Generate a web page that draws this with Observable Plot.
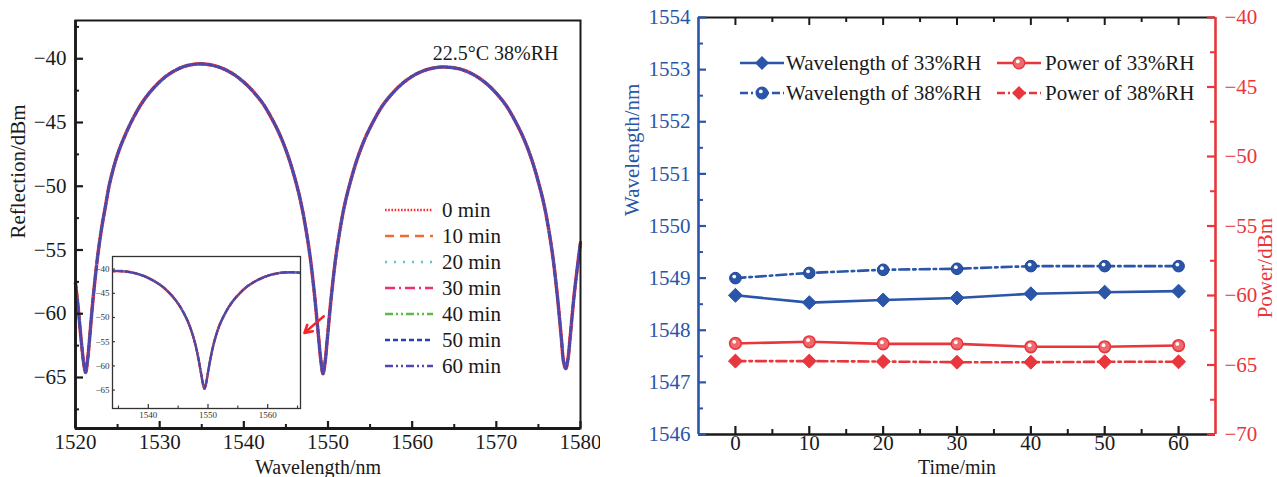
<!DOCTYPE html>
<html>
<head>
<meta charset="utf-8">
<script src="https://cdn.jsdelivr.net/npm/d3@7"></script>
<script src="https://cdn.jsdelivr.net/npm/@observablehq/plot@0.6"></script>
<style>
  body { margin: 0; background: #fff; }
  #fig { position: relative; width: 1277px; height: 477px; overflow: hidden;
         font-family: "Liberation Serif", "Times New Roman", serif; color: #1a1a1a; }
  #fig svg.layer { position: absolute; }
  .leg { position: absolute; display: flex; align-items: center; font-size: 21px; white-space: nowrap; line-height: 1; }
  .leg svg { display: block; }
</style>
</head>
<body>
<div id="fig"></div>
<script>
// ---------- Reflection spectrum (all seven time traces overlap) ----------
const spectrumWavelength = [1520.0,1520.3,1520.55,1520.8,1521.0,1521.2,1521.44,1521.68,1521.91,1522.15,1522.63,1523.1,1523.58,1524.05,1525.0,1525.96,1526.9,1527.86,1528.8,1529.76,1530.7,1531.67,1532.6,1533.57,1534.8,1536.13,1537.15,1538.17,1539.19,1540.21,1541.23,1542.25,1543.27,1544.3,1545.32,1546.34,1546.85,1547.36,1547.87,1548.38,1548.63,1548.89,1549.14,1549.4,1549.65,1549.9,1550.15,1550.4,1550.9,1551.4,1551.9,1552.4,1553.4,1554.4,1555.4,1556.4,1557.4,1558.4,1559.4,1560.4,1561.4,1562.4,1563.6,1565.25,1566.25,1567.25,1568.25,1569.25,1570.25,1571.25,1572.25,1573.25,1574.25,1575.25,1575.75,1576.25,1576.75,1577.25,1577.5,1577.75,1578.0,1578.25,1578.5,1578.75,1579.0,1579.25,1579.75,1580.0];
const spectrumReflection = [-57.6,-59.4,-61.2,-62.9,-64.0,-64.6,-63.6,-61.9,-60.1,-58.4,-55.5,-53.3,-51.5,-49.8,-47.5,-45.9,-44.6,-43.5,-42.66,-41.96,-41.4,-40.98,-40.68,-40.49,-40.4,-40.49,-40.68,-40.98,-41.4,-41.96,-42.66,-43.5,-44.63,-46.0,-47.75,-50.05,-51.5,-53.3,-55.5,-58.4,-60.1,-61.9,-63.6,-64.7,-63.8,-62.1,-60.3,-58.6,-55.7,-53.5,-51.7,-50.3,-48.0,-46.25,-44.9,-43.75,-42.9,-42.2,-41.65,-41.23,-40.93,-40.74,-40.65,-40.74,-40.93,-41.23,-41.65,-42.2,-42.9,-43.75,-44.9,-46.25,-48.0,-50.3,-51.7,-53.5,-55.7,-58.6,-60.3,-62.1,-63.8,-64.3,-63.6,-62.0,-60.2,-58.5,-55.7,-54.4];
const traceLabels = ["0 min", "10 min", "20 min", "30 min", "40 min", "50 min", "60 min"];
const spectrumNote = "22.5°C 38%RH";
const spectrumTicksX = [1520, 1530, 1540, 1550, 1560, 1570, 1580];
const spectrumTicksY = [-65, -60, -55, -50, -45, -40];
const insetTicksX = [1540, 1550, 1560];
// arrow from the second dip toward the inset (wavelength, dBm)
const arrowFrom = [1549.5, -60.2];
const arrowTo = [1547.2, -61.5];

// ---------- Stability over time ----------
const times = [0, 10, 20, 30, 40, 50, 60];
const wavelength33 = [1548.67, 1548.53, 1548.58, 1548.62, 1548.70, 1548.73, 1548.75];
const wavelength38 = [1549.00, 1549.10, 1549.16, 1549.18, 1549.23, 1549.23, 1549.23];
const power33 = [-63.45, -63.33, -63.48, -63.48, -63.69, -63.69, -63.60];
const power38 = [-64.72, -64.72, -64.75, -64.80, -64.80, -64.77, -64.77];
const seriesLabels = ["Wavelength of 33%RH", "Wavelength of 38%RH", "Power of 33%RH", "Power of 38%RH"];
const wavelengthTicks = [1546, 1547, 1548, 1549, 1550, 1551, 1552, 1553, 1554];
const powerTicks = [-70, -65, -60, -55, -50, -45, -40];

// ---------- styles ----------
const serif = '"Liberation Serif", "Times New Roman", serif';
const ink = "#1a1a1a";
const blue = "#2a55a8";
const red = "#e8363c";
const traceStyle = [
  {color: "#ff2a2a", dash: "1.6,1.6", width: 3.6},
  {color: "#f06a36", dash: "9,6", width: 2.4},
  {color: "#58c6d6", dash: "2,7", width: 2.4},
  {color: "#ee2f6c", dash: "10,4,2,4", width: 2.4},
  {color: "#5dbb46", dash: "8,3,2,3,2,3", width: 2.4},
  {color: "#2a40b2", dash: "5,3", width: 2.6},
  {color: "#5048b0", dash: "8,3,2,3,2,3", width: 2.6}
];
const fmt = d3.format("d");
const fig = document.getElementById("fig");
function place(svg, left, top) {
  svg.classList.add("layer");
  svg.style.left = left + "px";
  svg.style.top = top + "px";
  fig.appendChild(svg);
}

const spectrum = spectrumWavelength.map((w, i) => ({w, r: spectrumReflection[i]}));
const traceMarks = (scale, clip) => traceLabels.map((t, i) => Plot.line(spectrum, {
  x: "w", y: "r", curve: "catmull-rom", clip,
  stroke: traceStyle[i].color, strokeWidth: traceStyle[i].width * scale,
  strokeDasharray: traceStyle[i].dash
}));

// ---------- left: reflection spectrum ----------
{
  const W = 600, H = 477, mL = 75, mR = 20, mT = 20, mB = 49;
  const pw = W - mL - mR, ph = H - mT - mB;
  const minorX = spectrumTicksX.slice(0, -1).map(d => d + 5);
  const minorY = spectrumTicksY.map(d => d - 2.5).concat([-37.5]);
  const svg = Plot.plot({
    width: W, height: H, marginLeft: mL, marginRight: mR, marginTop: mT, marginBottom: mB,
    x: {domain: [1520, 1580], axis: null},
    y: {domain: [-69, -37], axis: null},
    style: {fontFamily: serif, fontSize: "21px", background: "transparent", color: ink},
    marks: [
      ...traceMarks(1, false),
      Plot.arrow([0], {x1: () => arrowFrom[0], y1: () => arrowFrom[1], x2: () => arrowTo[0], y2: () => arrowTo[1],
        stroke: "#f0282c", strokeWidth: 2.6, headLength: 9}),
      Plot.frame({stroke: ink, strokeWidth: 2}),
      Plot.ruleX([1520], {stroke: ink, strokeWidth: 2.8}),
      Plot.ruleY([-69], {stroke: ink, strokeWidth: 2.8}),
      Plot.tickX(spectrumTicksX, {x: d => d, insetTop: ph - 7, stroke: ink, strokeWidth: 2.2}),
      Plot.tickX(minorX, {x: d => d, insetTop: ph - 4, stroke: ink, strokeWidth: 2}),
      Plot.tickY(spectrumTicksY, {y: d => d, insetRight: pw - 8, stroke: ink, strokeWidth: 2.2}),
      Plot.tickY(minorY, {y: d => d, insetRight: pw - 4, stroke: ink, strokeWidth: 2}),
      Plot.axisX({ticks: spectrumTicksX, label: null, tickSize: 0, tickPadding: 6, tickFormat: fmt, fontSize: 21, fill: ink}),
      Plot.axisY({ticks: spectrumTicksY, label: null, tickSize: 0, tickPadding: 9, tickFormat: fmt, fontSize: 21, fill: ink}),
      Plot.text(["Reflection/dBm"], {frameAnchor: "left", rotate: -90, dx: -57, dy: 14, fontSize: 21, fill: ink}),
      Plot.text(["Wavelength/nm"], {frameAnchor: "bottom", dx: -10, dy: 45, fontSize: 20, fill: ink}),
      Plot.text([spectrumNote], {frameAnchor: "top-right", textAnchor: "end", dx: -22, dy: 25, fontSize: 20, fill: ink})
    ]
  });
  place(svg, 0, 0);

  // inset: zoom on the middle dip
  const iW = 230, iH = 190, iL = 32, iR = 10, iT = 16, iB = 22;
  const ipw = iW - iL - iR, iph = iH - iT - iB;
  const inset = Plot.plot({
    width: iW, height: iH, marginLeft: iL, marginRight: iR, marginTop: iT, marginBottom: iB,
    x: {domain: [1534, 1565.5], axis: null},
    y: {domain: [-68.8, -37.4], axis: null},
    style: {fontFamily: serif, fontSize: "9px", background: "transparent", color: "#333"},
    marks: [
      Plot.frame({fill: "white", stroke: "none"}),
      ...traceMarks(0.75, true),
      Plot.frame({stroke: "#333", strokeWidth: 1.3}),
      Plot.tickX(insetTicksX, {x: d => d, insetTop: iph - 4, stroke: "#333", strokeWidth: 1.2}),
      Plot.tickX([1535, 1545, 1555, 1565], {x: d => d, insetTop: iph - 2.5, stroke: "#333", strokeWidth: 1.1}),
      Plot.tickY(spectrumTicksY, {y: d => d, insetRight: ipw - 3, stroke: "#333", strokeWidth: 1.1}),
      Plot.axisX({ticks: insetTicksX, label: null, tickSize: 0, tickPadding: 3, tickFormat: fmt, fontSize: 9, fill: "#333"}),
      Plot.axisY({ticks: spectrumTicksY, label: null, tickSize: 0, tickPadding: 3, tickFormat: fmt, fontSize: 9, fill: "#333"})
    ]
  });
  place(inset, 80, 240);

  // legend of the time traces
  traceLabels.forEach((t, i) => {
    const row = document.createElement("div");
    row.className = "leg";
    row.style.left = "385px";
    row.style.top = (199 + 26 * i) + "px";
    const s = d3.create("svg").attr("width", 57).attr("height", 22);
    s.append("line").attr("x1", 0).attr("x2", 48).attr("y1", 11).attr("y2", 11)
      .attr("stroke", traceStyle[i].color).attr("stroke-width", 2.4)
      .attr("stroke-dasharray", traceStyle[i].dash);
    row.appendChild(s.node());
    const span = document.createElement("span");
    span.textContent = t;
    row.appendChild(span);
    fig.appendChild(row);
  });
}

// ---------- right: wavelength and power against time ----------
{
  const W = 677, H = 477, mL = 98, mR = 62, mT = 17, mB = 43;
  const pw = W - mL - mR, ph = H - mT - mB;
  const xDomain = [-5, 65];
  const majorX = times;
  const minorX = times.slice(0, -1).map(d => d + 5);
  const rows = times.map((t, i) => ({t, w33: wavelength33[i], w38: wavelength38[i], p33: power33[i], p38: power38[i]}));

  const wl = Plot.plot({
    width: W, height: H, marginLeft: mL, marginRight: mR, marginTop: mT, marginBottom: mB,
    x: {domain: xDomain, axis: null},
    y: {domain: [1546, 1554], axis: null},
    style: {fontFamily: serif, fontSize: "21px", background: "transparent", color: ink},
    marks: [
      Plot.ruleY([1554], {stroke: ink, strokeWidth: 2}),
      Plot.ruleY([1546], {stroke: ink, strokeWidth: 2.6}),
      Plot.tickX(majorX, {x: d => d, insetBottom: ph - 8, stroke: ink, strokeWidth: 2}),
      Plot.tickX(minorX, {x: d => d, insetBottom: ph - 5, stroke: ink, strokeWidth: 2}),
      Plot.tickX(majorX, {x: d => d, insetTop: ph - 8, stroke: ink, strokeWidth: 2.2}),
      Plot.tickX(minorX, {x: d => d, insetTop: ph - 5, stroke: ink, strokeWidth: 2}),
      Plot.ruleX([-5], {stroke: blue, strokeWidth: 2.6}),
      Plot.tickY(wavelengthTicks, {y: d => d, insetRight: pw - 8, stroke: blue, strokeWidth: 2.2}),
      Plot.tickY(wavelengthTicks.slice(0, -1).map(d => d + 0.5), {y: d => d, insetRight: pw - 5, stroke: blue, strokeWidth: 2}),
      Plot.axisX({ticks: majorX, label: null, tickSize: 0, tickPadding: 1, tickFormat: fmt, fontSize: 21, fill: ink}),
      Plot.axisY({ticks: wavelengthTicks, label: null, tickSize: 0, tickPadding: 8, tickFormat: fmt, fontSize: 21, fill: blue}),
      Plot.line(rows, {x: "t", y: "w33", stroke: blue, strokeWidth: 2.6}),
      Plot.line(rows, {x: "t", y: "w38", stroke: blue, strokeWidth: 2.6, strokeDasharray: "10,4,2.5,4"}),
      Plot.dot(rows, {x: "t", y: "w33", symbol: "diamond2", r: 6.3, fill: blue, stroke: blue, strokeWidth: 1}),
      Plot.dot(rows, {x: "t", y: "w38", r: 5.8, fill: blue, stroke: "#1f4593", strokeWidth: 1}),
      Plot.dot(rows, {x: "t", y: "w38", r: 1.9, fill: "white", dx: -1.2, dy: -1.6}),
      Plot.text(["Wavelength/nm"], {frameAnchor: "left", rotate: -90, dx: -66, dy: -10, fontSize: 21, fill: blue}),
      Plot.text(["Time/min"], {frameAnchor: "bottom", dy: 39, fontSize: 20, fill: ink})
    ]
  });
  place(wl, 600, 0);

  const pwr = Plot.plot({
    width: W, height: H, marginLeft: mL, marginRight: mR, marginTop: mT, marginBottom: mB,
    x: {domain: xDomain, axis: null},
    y: {domain: [-70, -40], axis: null},
    style: {fontFamily: serif, fontSize: "21px", background: "transparent", color: red},
    marks: [
      Plot.ruleX([65], {stroke: red, strokeWidth: 2.6}),
      Plot.tickY(powerTicks, {y: d => d, insetLeft: pw - 8, stroke: red, strokeWidth: 2.2}),
      Plot.tickY(powerTicks.slice(0, -1).map(d => d + 2.5), {y: d => d, insetLeft: pw - 5, stroke: red, strokeWidth: 2}),
      Plot.axisY({anchor: "right", ticks: powerTicks, label: null, tickSize: 0, tickPadding: 9, tickFormat: fmt, fontSize: 21, fill: red}),
      Plot.line(rows, {x: "t", y: "p33", stroke: red, strokeWidth: 2.6}),
      Plot.line(rows, {x: "t", y: "p38", stroke: red, strokeWidth: 2.6, strokeDasharray: "10,4,2.5,4"}),
      Plot.dot(rows, {x: "t", y: "p33", r: 5.8, fill: "#ef6a6e", stroke: red, strokeWidth: 1.6}),
      Plot.dot(rows, {x: "t", y: "p33", r: 1.9, fill: "white", dx: -1.2, dy: -1.6}),
      Plot.dot(rows, {x: "t", y: "p38", symbol: "diamond2", r: 6.3, fill: red, stroke: red, strokeWidth: 1}),
      Plot.text(["Power/dBm"], {frameAnchor: "right", rotate: -90, dx: 50, dy: -8, fontSize: 21, fill: red})
    ]
  });
  place(pwr, 600, 0);

  // legend: two columns, two rows
  const legendItems = [
    {label: seriesLabels[0], color: blue, dash: null, marker: "diamond", left: 738, top: 52},
    {label: seriesLabels[1], color: blue, dash: "8,3,2,3", marker: "ball", left: 738, top: 82},
    {label: seriesLabels[2], color: red, dash: null, marker: "ball", left: 995, top: 52},
    {label: seriesLabels[3], color: red, dash: "8,3,2,3", marker: "diamond", left: 995, top: 82}
  ];
  legendItems.forEach(it => {
    const row = document.createElement("div");
    row.className = "leg";
    row.style.left = it.left + "px";
    row.style.top = it.top + "px";
    const s = d3.create("svg").attr("width", it.left === 738 ? 48 : 50).attr("height", 22);
    s.append("line").attr("x1", 2).attr("x2", 46).attr("y1", 11).attr("y2", 11)
      .attr("stroke", it.color).attr("stroke-width", 2.6)
      .attr("stroke-dasharray", it.dash);
    if (it.marker === "diamond") {
      s.append("path").attr("d", "M24,4L31,11L24,18L17,11Z").attr("fill", it.color);
    } else {
      s.append("circle").attr("cx", 24).attr("cy", 11).attr("r", 5.8)
        .attr("fill", it.color === red ? "#ef6a6e" : it.color).attr("stroke", it.color).attr("stroke-width", 1.4);
      s.append("circle").attr("cx", 22.8).attr("cy", 9.4).attr("r", 1.9).attr("fill", "white");
    }
    row.appendChild(s.node());
    const span = document.createElement("span");
    span.textContent = it.label;
    row.appendChild(span);
    fig.appendChild(row);
  });
}
</script>
</body>
</html>
